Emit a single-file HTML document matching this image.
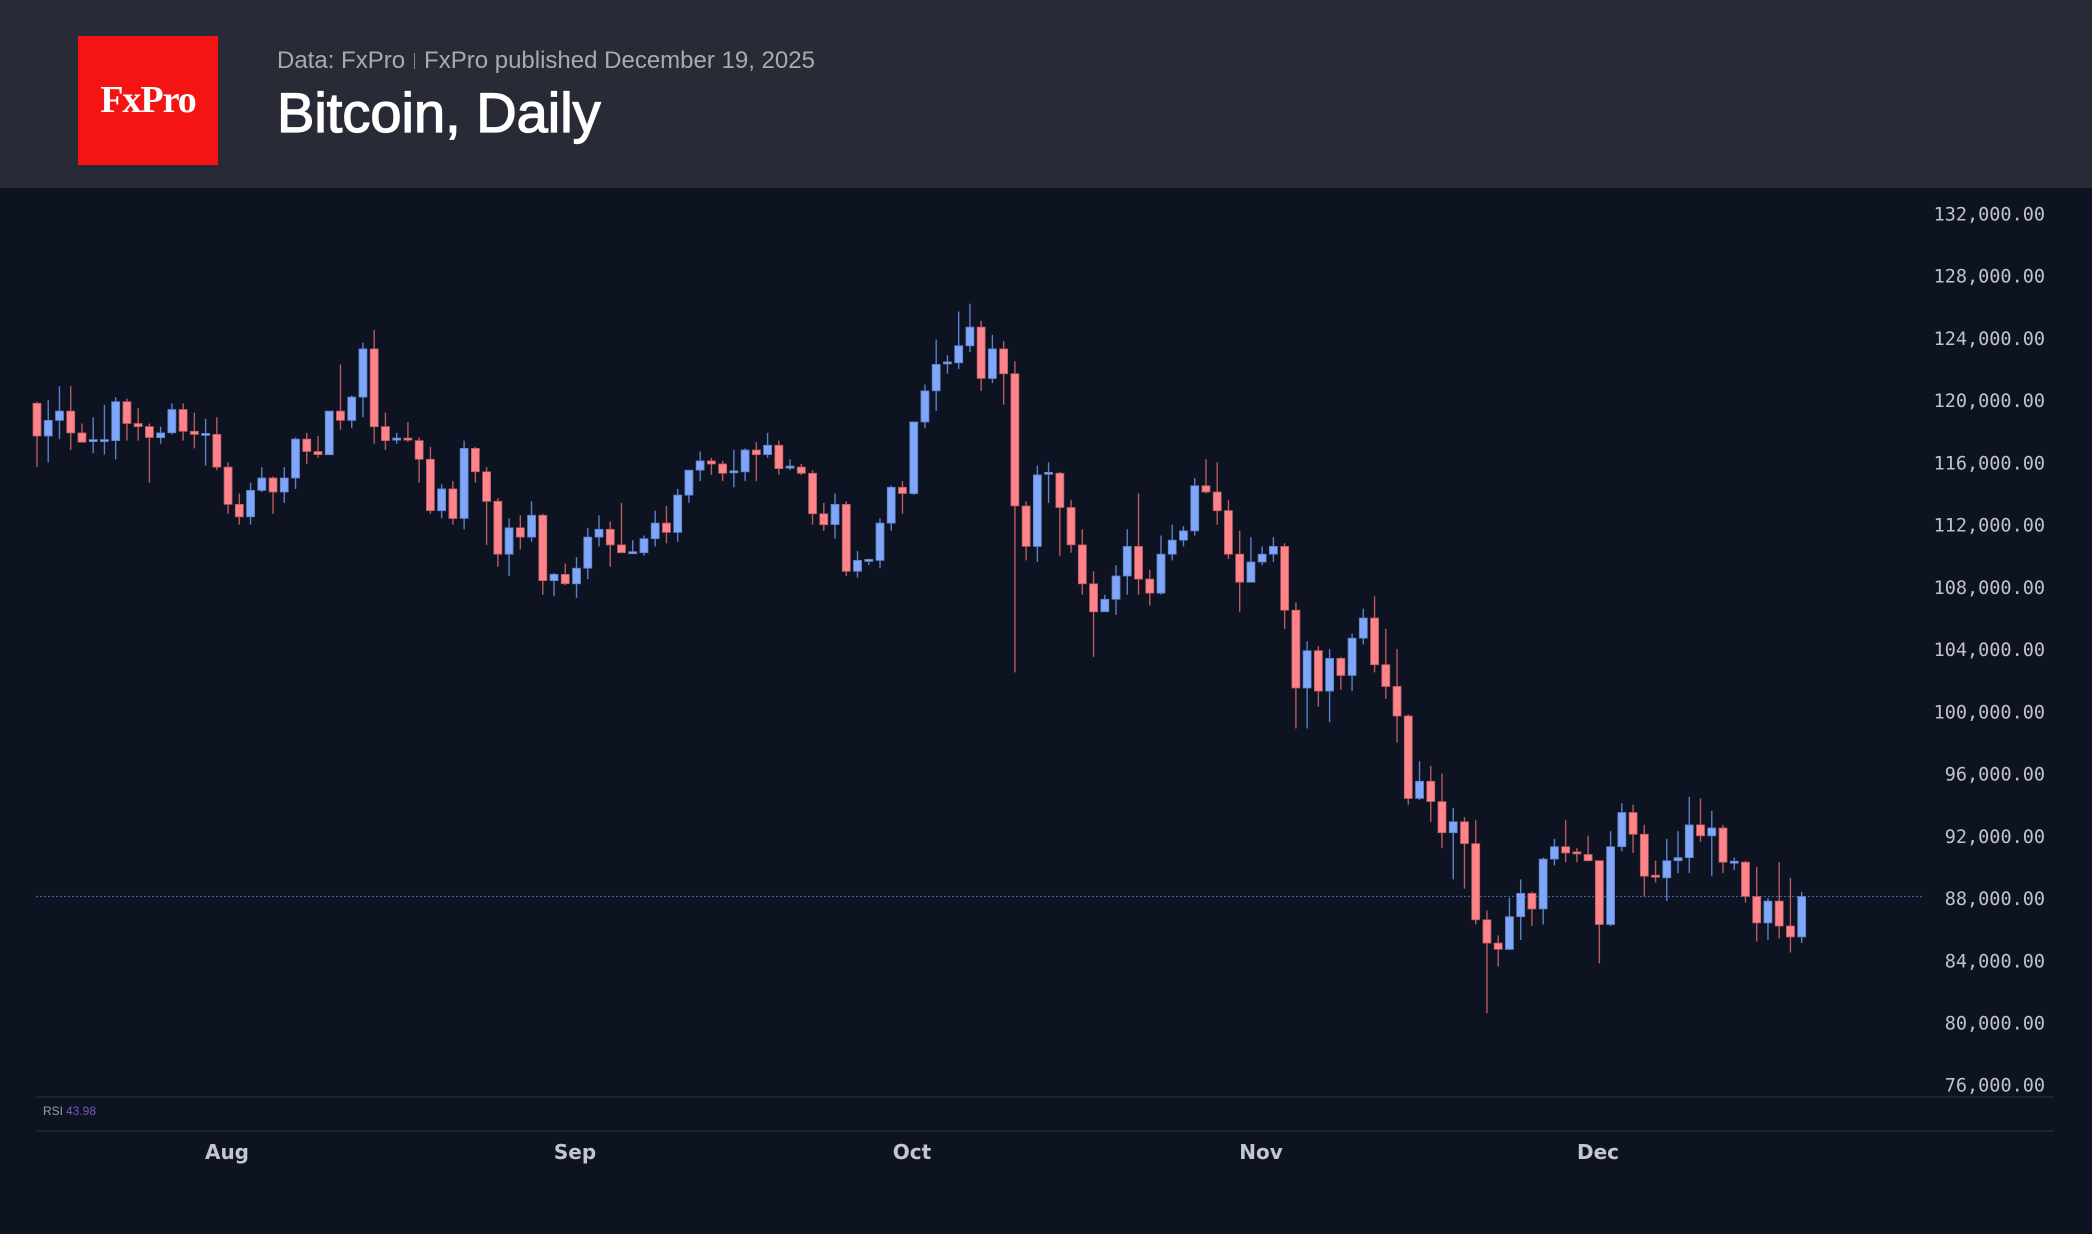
<!DOCTYPE html>
<html><head><meta charset="utf-8"><style>
html,body{margin:0;padding:0;background:#0d1320;width:2092px;height:1234px;overflow:hidden}
#hdr{position:absolute;left:0;top:0;width:2092px;height:188px;background:#282a36}
#logo{position:absolute;left:78px;top:36px;width:140px;height:129px;background:#f41414;color:#fff;font-family:"Liberation Serif",serif;font-size:38px;font-weight:bold;text-align:center;line-height:129px;letter-spacing:-1px}
#sub{position:absolute;left:277px;top:47px;font-family:"Liberation Sans",sans-serif;font-size:24px;color:#a9aab0;white-space:nowrap}
#sub .sep{display:inline-block;width:1px;height:16px;background:#888;margin:0 9px;vertical-align:-1px}
#ttl{position:absolute;left:277px;top:80px;font-family:"Liberation Sans",sans-serif;font-size:56px;color:#fff;white-space:nowrap;-webkit-text-stroke:1.3px #fff}
svg{position:absolute;left:0;top:0}
</style></head><body>
<div id="hdr"></div>
<div id="logo">FxPro</div>
<div id="sub">Data: FxPro<span class="sep"></span>FxPro published December 19, 2025</div>
<div id="ttl">Bitcoin, Daily</div>
<svg id="c" width="2092" height="1234" xmlns="http://www.w3.org/2000/svg"></svg>
<script>
var D=[[119.8,119.9,115.7,117.7],[117.7,120.0,116.0,118.7],[118.7,120.9,117.5,119.3],[119.3,120.9,116.8,117.9],[117.9,118.5,117.3,117.3],[117.3,118.9,116.6,117.4],[117.4,119.7,116.5,117.4],[117.4,120.2,116.2,119.9],[119.9,120.1,117.4,118.5],[118.5,119.5,117.4,118.3],[118.3,118.5,114.7,117.6],[117.6,118.3,117.2,117.9],[117.9,119.8,117.8,119.4],[119.4,119.8,117.4,118.0],[118.0,119.2,116.9,117.8],[117.8,118.8,115.8,117.8],[117.8,118.9,115.5,115.7],
[115.7,116.0,112.7,113.3],[113.3,114.0,112.0,112.5],[112.5,114.7,112.0,114.2],[114.2,115.7,114.1,115.0],[115.0,115.1,112.7,114.1],[114.1,115.7,113.4,115.0],[115.0,117.6,114.3,117.5],[117.5,117.9,115.9,116.7],[116.7,117.7,116.3,116.5],[116.5,119.3,116.5,119.3],[119.3,122.3,118.1,118.7],[118.7,120.3,118.2,120.2],[120.2,123.7,118.9,123.3],[123.3,124.5,117.2,118.3],[118.3,119.2,116.8,117.4],[117.4,117.9,117.2,117.5],[117.5,118.6,117.3,117.4],[117.4,117.6,114.7,116.2],[116.2,117.0,112.7,112.9],[112.9,114.6,112.4,114.3],[114.3,114.8,112.0,112.4],[112.4,117.4,111.7,116.9],[116.9,117.0,114.7,115.4],[115.4,115.7,110.7,113.5],[113.5,113.7,109.3,110.1],[110.1,112.4,108.7,111.8],[111.8,112.6,110.4,111.2],[111.2,113.5,110.9,112.6],[112.6,112.7,107.5,108.4],[108.4,108.9,107.4,108.8],[108.8,109.5,108.1,108.2],
[108.2,109.9,107.3,109.2],[109.2,111.8,108.5,111.2],[111.2,112.6,110.6,111.7],[111.7,112.2,109.3,110.7],[110.7,113.4,110.2,110.2],[110.2,111.0,110.1,110.2],[110.2,111.3,110.0,111.1],[111.1,112.9,110.6,112.1],[112.1,113.2,110.8,111.5],[111.5,114.3,110.9,113.9],[113.9,115.5,113.4,115.5],[115.5,116.7,114.8,116.1],[116.1,116.3,115.2,115.9],[115.9,116.1,114.8,115.3],[115.3,116.8,114.4,115.4],[115.4,116.9,114.8,116.8],[116.8,117.3,114.8,116.5],[116.5,117.9,116.3,117.1],[117.1,117.4,115.2,115.6],[115.6,116.2,115.5,115.7],[115.7,115.9,115.2,115.3],[115.3,115.5,112.0,112.7],[112.7,113.4,111.6,112.0],[112.0,114.0,111.1,113.3],[113.3,113.5,108.7,109.0],[109.0,110.3,108.6,109.7],[109.7,109.8,109.4,109.7],[109.7,112.4,109.2,112.1],[112.1,114.5,111.6,114.4],[114.4,114.8,112.7,114.0],
[114.0,118.6,113.9,118.6],[118.6,121.0,118.2,120.6],[120.6,123.9,119.3,122.3],[122.3,122.9,121.7,122.4],[122.4,125.7,122.0,123.5],[123.5,126.2,123.1,124.7],[124.7,125.1,120.6,121.4],[121.4,124.2,121.1,123.3],[123.3,123.8,119.7,121.7],[121.7,122.5,102.5,113.2],[113.2,113.5,109.7,110.6],[110.6,115.8,109.6,115.2],[115.2,116.0,113.4,115.3],[115.3,115.4,110.0,113.1],[113.1,113.6,110.2,110.7],[110.7,111.7,107.5,108.2],[108.2,109.0,103.5,106.4],[106.4,107.5,106.4,107.2],[107.2,109.4,106.2,108.7],[108.7,111.7,107.5,110.6],[110.6,114.0,107.5,108.5],[108.5,109.1,106.8,107.6],[107.6,111.3,107.5,110.1],[110.1,112.0,109.7,111.0],[111.0,111.9,110.6,111.6],[111.6,115.0,111.3,114.5],[114.5,116.2,114.0,114.1],[114.1,116.0,112.0,112.9],[112.9,113.6,109.8,110.1],[110.1,111.6,106.4,108.3],[108.3,111.2,108.3,109.6],
[109.6,110.6,109.4,110.1],[110.1,111.2,109.6,110.6],[110.6,110.8,105.3,106.5],[106.5,107.0,98.9,101.5],[101.5,104.5,98.9,103.9],[103.9,104.2,100.3,101.3],[101.3,104.0,99.3,103.4],[103.4,103.5,101.4,102.3],[102.3,105.0,101.3,104.7],[104.7,106.6,104.3,106.0],[106.0,107.4,102.5,103.0],[103.0,105.3,100.8,101.6],[101.6,104.0,98.0,99.7],[99.7,99.8,94.0,94.4],[94.4,96.8,94.3,95.5],[95.5,96.5,92.9,94.2],[94.2,96.0,91.2,92.2],[92.2,93.8,89.2,92.9],[92.9,93.2,88.6,91.5],[91.5,93.0,86.3,86.6],[86.6,87.2,80.6,85.1],[85.1,85.6,83.6,84.7],[84.7,88.0,84.7,86.8],[86.8,89.2,85.3,88.3],[88.3,88.4,86.2,87.3],[87.3,90.6,86.3,90.5],[90.5,91.8,90.1,91.3],[91.3,93.0,90.3,90.9],[90.9,91.2,90.3,90.8],[90.8,92.0,90.4,90.4],
[90.4,90.4,83.8,86.3],[86.3,92.3,86.2,91.3],[91.3,94.1,91.0,93.5],[93.5,94.0,90.9,92.1],[92.1,92.7,88.1,89.4],[89.4,90.4,89.0,89.3],[89.3,91.8,87.8,90.4],[90.4,92.3,89.6,90.6],[90.6,94.5,89.6,92.7],[92.7,94.4,91.6,92.0],[92.0,93.6,89.4,92.5],[92.5,92.7,89.6,90.3],[90.3,90.6,89.8,90.3],[90.3,90.4,87.7,88.1],[88.1,90.0,85.2,86.4],[86.4,88.0,85.3,87.8],[87.8,90.3,85.4,86.2],[86.2,89.3,84.5,85.5],[85.5,88.4,85.1,88.1]];
function Y(p){return 213.5+(132-p)/4*62.23;}
var s='';
s+='<line x1="36" y1="1097" x2="2054" y2="1097" stroke="#262b36" stroke-width="1.5"/>';
s+='<line x1="36" y1="1131" x2="2054" y2="1131" stroke="#262b36" stroke-width="1.5"/>';
for(var p=132;p>=76;p-=4){var t=p+',000.00';
 s+='<text x="2045" y="'+(Y(p)+7).toFixed(1)+'" text-anchor="end" font-family="DejaVu Sans Mono,Liberation Mono,monospace" font-size="18.5" fill="#c0c3c9">'+t+'</text>';}
var ly=Y(88.1);
s+='<line x1="36" y1="'+ly+'" x2="1922" y2="'+ly+'" stroke="#3f63a8" stroke-width="1.3" stroke-dasharray="2,2"/>';
for(var i=0;i<D.length;i++){var d=D[i],x=37+i*11.24,up=d[3]>=d[0];
 var col=up?'#7fa6f8':'#ff8489',wc=up?'#5b7fc8':'#b85a62';
 s+='<line x1="'+x.toFixed(2)+'" y1="'+Y(d[1]).toFixed(1)+'" x2="'+x.toFixed(2)+'" y2="'+Y(d[2]).toFixed(1)+'" stroke="'+wc+'" stroke-width="1.4"/>';
 var t=Y(Math.max(d[0],d[3])),b=Y(Math.min(d[0],d[3]));if(b-t<2){t-=1;b=t+2;}
 s+='<rect x="'+(x-4).toFixed(2)+'" y="'+t.toFixed(1)+'" width="8" height="'+(b-t).toFixed(1)+'" fill="'+col+'" stroke="'+wc+'" stroke-width="0.8"/>';}
s+='<text x="43" y="1115" font-family="Liberation Sans,sans-serif" font-size="12" fill="#9aa0aa">RSI</text><text x="66" y="1115" font-family="Liberation Sans,sans-serif" font-size="12" fill="#7e57c2">43.98</text>';
var M=[['Aug',227],['Sep',575],['Oct',912],['Nov',1261],['Dec',1598]];
for(var k=0;k<M.length;k++)s+='<text x="'+M[k][1]+'" y="1159" text-anchor="middle" font-family="DejaVu Sans,Liberation Sans,sans-serif" font-weight="bold" font-size="20" fill="#c3c6cc">'+M[k][0]+'</text>';
document.getElementById('c').innerHTML=s;
</script>
</body></html>
